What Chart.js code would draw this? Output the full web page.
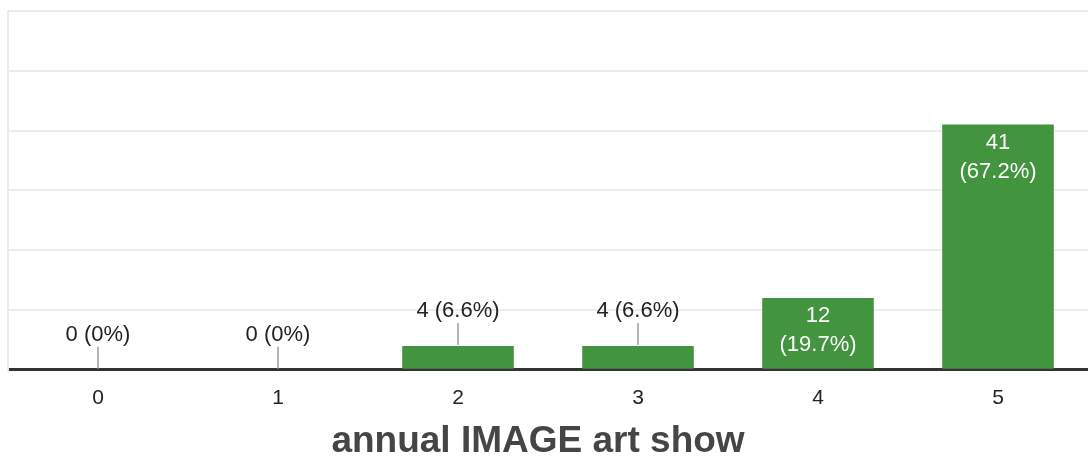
<!DOCTYPE html>
<html>
<head>
<meta charset="utf-8">
<script src="https://cdn.jsdelivr.net/npm/chart.js@4"></script>
<style>
	html, body { margin: 0; padding: 0; background: #fff; }
	#wrap { width: 1088px; height: 456px; }
</style>
</head>
<body>
<div id="wrap"><canvas id="ratingChart"></canvas></div>
<script>
var categories = ['0', '1', '2', '3', '4', '5'];
var counts = [0, 0, 4, 4, 12, 41];
var yTicks = [0, 10, 20, 30, 40, 50, 60];
var axisTitle = 'annual IMAGE art show';

var FONT = '"Liberation Sans", Arial, sans-serif';
var total = counts.reduce(function (a, b) { return a + b; }, 0);
var _pct = function (v) {
	var p = Math.round(v / total * 1000) / 10;
	return p + '%';
};

// labels like "4 (6.6%)": inside the bar when tall enough, else above with a leader line
var barLabels = {
	id: 'barLabels',
	afterDatasetsDraw: function (chart) {
		var ctx = chart.ctx;
		var meta = chart.getDatasetMeta(0);
		ctx.save();
		ctx.font = '22px ' + FONT;
		ctx.textAlign = 'center';
		ctx.textBaseline = 'middle';
		for (var i = 0; i < meta.data.length; i++) {
			var bar = meta.data[i];
			var v = counts[i];
			var h = bar.base - bar.y;
			if (h > 60) {
				ctx.fillStyle = '#ffffff';
				ctx.fillText(String(v), bar.x, bar.y + 18);
				ctx.fillText('(' + _pct(v) + ')', bar.x, bar.y + 47);
			} else {
				ctx.strokeStyle = '#9e9e9e';
				ctx.lineWidth = 1.5;
				ctx.beginPath();
				ctx.moveTo(bar.x, bar.y - 1);
				ctx.lineTo(bar.x, bar.y - 23);
				ctx.stroke();
				ctx.fillStyle = '#222222';
				ctx.fillText(v + ' (' + _pct(v) + ')', bar.x, bar.y - 35);
			}
		}
		ctx.restore();
	}
};

// axis title under the tick labels
var bottomTitle = {
	id: 'bottomTitle',
	afterDraw: function (chart) {
		var ctx = chart.ctx;
		ctx.save();
		ctx.font = 'bold 37px ' + FONT;
		ctx.fillStyle = '#454545';
		ctx.textAlign = 'center';
		ctx.textBaseline = 'alphabetic';
		ctx.fillText(axisTitle, chart.width / 2 - 6, chart.height - 4);
		ctx.restore();
	}
};

window.addEventListener('load', function () {
	var ctx = document.getElementById('ratingChart');
	new Chart(ctx, {
		type: 'bar',
		data: {
			labels: categories,
			datasets: [{
				data: counts,
				backgroundColor: '#43943f',
				barPercentage: 0.62,
				categoryPercentage: 1.0
			}]
		},
		options: {
			responsive: true,
			maintainAspectRatio: false,
			animation: false,
			layout: { padding: { left: 8, right: -3, top: 11, bottom: 29 } },
			plugins: {
				legend: { display: false },
				tooltip: { enabled: false }
			},
			scales: {
				x: {
					grid: { display: false, drawTicks: false },
					border: { display: true, color: '#333333', width: 3 },
					ticks: {
						color: '#222222',
						padding: 16,
						font: { family: FONT, size: 21 }
					}
				},
				y: {
					min: yTicks[0],
					max: yTicks[yTicks.length - 1],
					afterBuildTicks: function (axis) {
						axis.ticks = yTicks.map(function (t) { return { value: t }; });
					},
					grid: { color: '#ececec', lineWidth: 2, drawTicks: false },
					border: { display: true, color: '#ececec', width: 2 },
					ticks: { display: false }
				}
			}
		},
		plugins: [barLabels, bottomTitle]
	});
});
</script>
</body>
</html>
